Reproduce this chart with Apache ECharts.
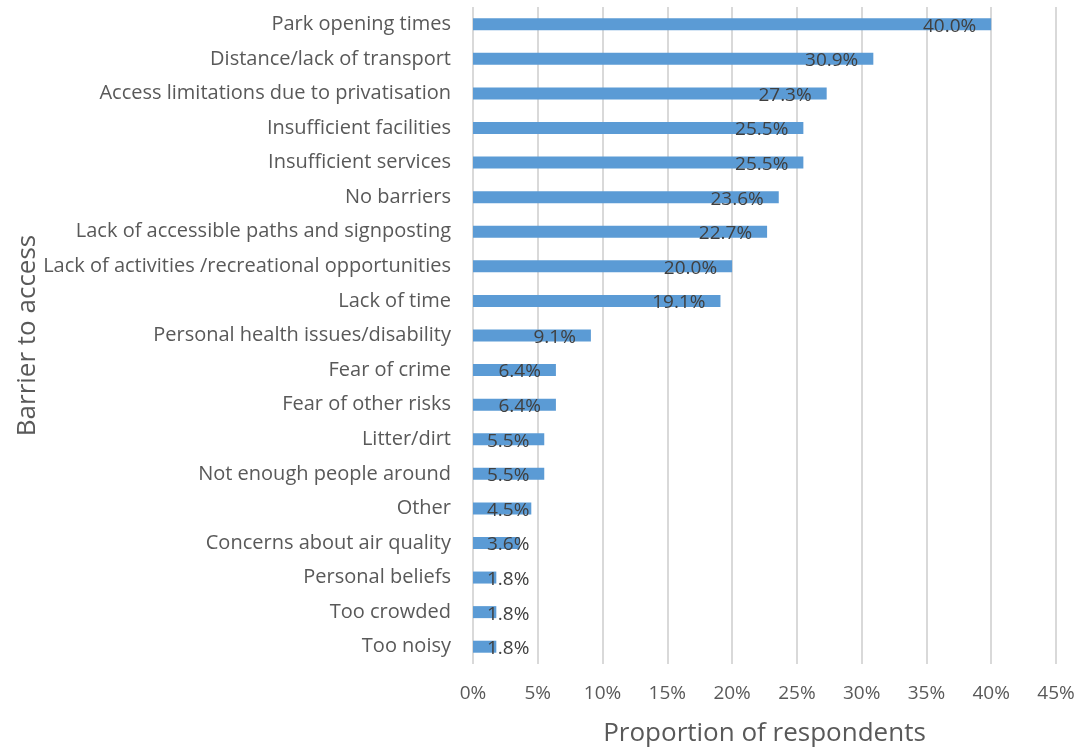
<!DOCTYPE html>
<html>
<head>
<meta charset="utf-8">
<script src="https://cdn.jsdelivr.net/npm/echarts@6/dist/echarts.min.js"></script>
<style>
  html, body { margin: 0; padding: 0; background: #fff; }
  #chart { width: 1079px; height: 747px; }
</style>
</head>
<body>
<div id="chart"></div>
<script>
var barriers = [
    'Park opening times',
    'Distance/lack of transport',
    'Access limitations due to privatisation',
    'Insufficient facilities',
    'Insufficient services',
    'No barriers',
    'Lack of accessible paths and signposting',
    'Lack of activities /recreational opportunities',
    'Lack of time',
    'Personal health issues/disability',
    'Fear of crime',
    'Fear of other risks',
    'Litter/dirt',
    'Not enough people around',
    'Other',
    'Concerns about air quality',
    'Personal beliefs',
    'Too crowded',
    'Too noisy'
];
var proportions = [40.0, 30.9, 27.3, 25.5, 25.5, 23.6, 22.7, 20.0, 19.1, 9.1, 6.4, 6.4, 5.5, 5.5, 4.5, 3.6, 1.8, 1.8, 1.8];

var myChart = echarts.init(document.getElementById('chart'));

// labels sit inside the bar end, short bars push them out from the axis
var barData = proportions.map(function (v) {
    var item = { value: v };
    if (v < 5.8) {
        item.label = { position: 'insideLeft', distance: 14 };
    }
    return item;
});

var fontName = 'Open Sans';

var option = {
    animation: false,
    grid: {
        left: 473,
        right: 23,
        top: 7,
        bottom: 83,
        outerBoundsMode: 'none'
    },
    xAxis: {
        type: 'value',
        min: 0,
        max: 45,
        interval: 5,
        name: 'Proportion of respondents',
        nameLocation: 'middle',
        nameGap: 57,
        nameTextStyle: { fontSize: 26, color: '#595959', fontFamily: fontName },
        axisLine: { show: false },
        axisTick: { show: false },
        axisLabel: {
            formatter: '{value}%',
            fontSize: 19,
            color: '#595959',
            fontFamily: fontName,
            margin: 20
        },
        splitLine: { show: true, lineStyle: { color: '#d9d9d9', width: 2 } }
    },
    yAxis: {
        type: 'category',
        inverse: true,
        data: barriers,
        name: 'Barrier to access',
        nameLocation: 'middle',
        nameGap: 432,
        nameMoveOverlap: false,
        nameTextStyle: { fontSize: 26, color: '#595959', fontFamily: fontName },
        axisLine: { show: false },
        axisTick: { show: false },
        axisLabel: {
            fontSize: 20,
            color: '#595959',
            fontFamily: fontName,
            margin: 22
        }
    },
    series: [{
        type: 'bar',
        data: barData,
        barWidth: 12,
        itemStyle: { color: '#5b9bd5' },
        label: {
            show: true,
            position: 'insideRight',
            distance: 15,
            offset: [0, 2],
            fontSize: 19,
            color: '#404040',
            fontFamily: fontName,
            formatter: function (p) { return p.value.toFixed(1) + '%'; }
        }
    }]
};

myChart.setOption(option);
</script>
</body>
</html>
